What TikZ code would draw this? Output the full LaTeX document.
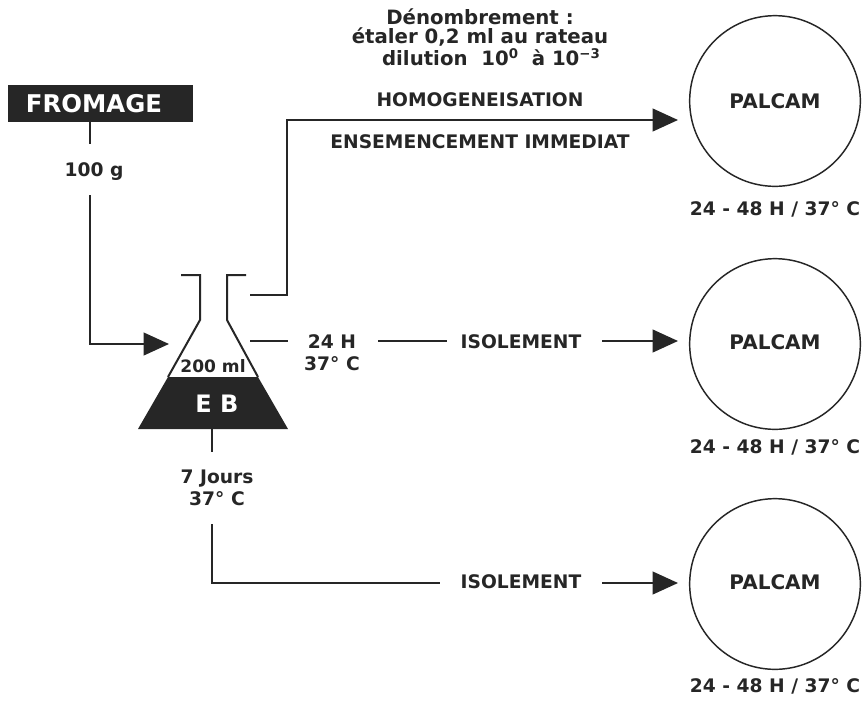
\documentclass[tikz,border=0pt]{standalone}
\usepackage{fontspec}
\setmainfont{DejaVu Sans}
\usetikzlibrary{arrows.meta}
\definecolor{ink}{HTML}{262626}
\tikzset{
  line/.style={draw=ink,line width=1.5pt},
  arrowline/.style={line,-{Triangle[length=19pt,width=17pt,fill=ink]}},
  lbl/.style={text=ink,font=\bfseries\fontsize{14}{16.5}\selectfont,inner sep=0pt,align=center},
  bigl/.style={text=ink,font=\bfseries\fontsize{14.8}{16.5}\selectfont,inner sep=0pt,align=center},
  small/.style={text=ink,font=\bfseries\fontsize{14}{16}\selectfont,inner sep=0pt,align=center},
  plate/.style={circle,draw=ink,line width=1.1pt,minimum size=128pt,inner sep=0pt,text=ink,font=\bfseries\fontsize{15}{16}\selectfont},
}
\begin{document}
\begin{tikzpicture}[x=0.75pt,y=-0.75pt]
\useasboundingbox (0,0) rectangle (865,701);
\fill[white] (0,0) rectangle (865,701);
% cheese
\node (fromage) [fill=ink,text=white,minimum width=138.75pt,minimum height=27.75pt,inner sep=0pt,font=\bfseries\fontsize{18.3}{20}\selectfont] at (100.5,103.5) {\hspace*{-9.75pt}FROMAGE};
\coordinate (a1) at (90,122);
\coordinate (a2) at (90,144);
\coordinate (a3) at (90,195);
\coordinate (a4) at (90,344);
\coordinate (a5) at (169,344);
\draw[line] (a1) -- (a2);
\node (qty) [lbl] at (94,172) {100 g};
\draw[arrowline] (a3) -- (a4) -- (a5);
% flask
\fill[ink] (168,377) -- (258,377) -- (288,429) -- (138,429) -- cycle;
\draw[line,line join=miter] (181,275) -- (200,275) -- (200,320) -- (168,377);
\draw[line,line join=miter] (246,275) -- (227,275) -- (227,320) -- (258,377);
\node (vol) [text=ink,font=\bfseries\fontsize{12.8}{14}\selectfont,inner sep=0pt] at (213,366) {200 ml};
\node (eb) [text=white,font=\bfseries\fontsize{18}{18}\selectfont,inner sep=0pt] at (217,404) {E B};
% top branch
\node (p1) [plate] at (775,101) {\raisebox{-1.5pt}{PALCAM}};
\coordinate (b1) at (250,295);
\coordinate (b2) at (287,295);
\coordinate (b3) at (287,120);
\coordinate (b4) at (678,120);
\draw[arrowline] (b1) -- (b2) -- (b3) -- (b4);
\node (den) [bigl] at (480,17) {Dénombrement :};
\node (eta) [bigl] at (480,37) {étaler 0,2 ml au rateau};
\node (dil) [bigl] at (491,57) {dilution\ \ 10\raisebox{5pt}{\fontsize{10}{10}\selectfont 0}\ \ à 10\raisebox{5pt}{\fontsize{10}{10}\selectfont −3}};
\node (hom) [small] at (480,100) {HOMOGENEISATION};
\node (ens) [small] at (480,142) {ENSEMENCEMENT IMMEDIAT};
\node (t1) [small] at (775,209) {24 - 48 H / 37° C};
% middle branch
\node (p2) [plate] at (775,344) {\raisebox{2.25pt}{PALCAM}};
\coordinate (c1) at (250,341);
\coordinate (c2) at (288,341);
\coordinate (c3) at (378,341);
\coordinate (c4) at (447,341);
\coordinate (c5) at (602,341);
\coordinate (c6) at (678,341);
\draw[line] (c1) -- (c2);
\node (h24) [lbl] at (332,353) {24 H\\37° C};
\draw[line] (c3) -- (c4);
\node (iso1) [small] at (521,342) {ISOLEMENT};
\draw[arrowline] (c5) -- (c6);
\node (t2) [small] at (775,447) {24 - 48 H / 37° C};
% bottom branch
\node (p3) [plate] at (775,584) {\raisebox{2.25pt}{PALCAM}};
\coordinate (d1) at (212,429);
\coordinate (d2) at (212,452);
\coordinate (d3) at (212,524);
\coordinate (d4) at (212,583);
\coordinate (d5) at (440,583);
\coordinate (d6) at (602,583);
\coordinate (d7) at (678,583);
\draw[line] (d1) -- (d2);
\node (j7) [lbl] at (217,488) {7 Jours\\37° C};
\draw[line] (d3) -- (d4) -- (d5);
\node (iso2) [small] at (521,582) {ISOLEMENT};
\draw[arrowline] (d6) -- (d7);
\node (t3) [small] at (775,686) {24 - 48 H / 37° C};
\end{tikzpicture}
\end{document}
